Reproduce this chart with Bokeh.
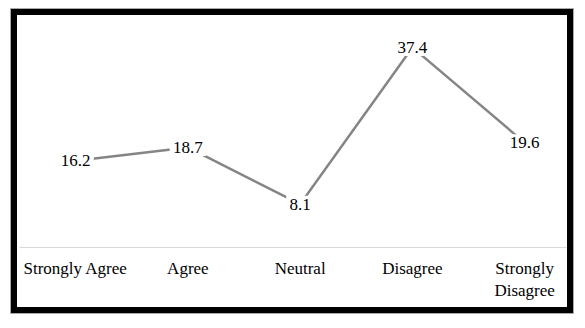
from bokeh.plotting import figure
from bokeh.models import ColumnDataSource, Range1d, FixedTicker
from bokeh.core.properties import value
from bokeh.embed import file_html
from bokeh.resources import INLINE

categories = ["Strongly Agree", "Agree", "Neutral", "Disagree", "Strongly\nDisagree"]
values = [16.2, 18.7, 8.1, 37.4, 19.6]
value_labels = ["16.2", "18.7", "8.1", "37.4", "19.6"]

xs = list(range(len(categories)))
src = ColumnDataSource(dict(x=xs, y=values, lab=value_labels,
                            w=[8.6 * len(s) + 2 for s in value_labels]))

p = figure(width=564, height=306, output_backend="svg", toolbar_location=None,
           x_range=Range1d(-0.5, 4.373), y_range=Range1d(0, 40),
           min_border_left=9, min_border_right=8, min_border_top=25, min_border_bottom=67,
           background_fill_color=None, border_fill_color=None,
           styles={"background-color": "white", "margin-left": "10px", "margin-top": "8px",
                   "box-shadow": "inset 0 0 0 1px #aaaaaa, inset 0 0 0 7px black"})
p.outline_line_color = None
p.grid.visible = False
p.yaxis.visible = False

p.line("x", "y", source=src, line_color="#858585", line_width=2.5)
p.rect("x", "y", width="w", height=17, width_units="screen", height_units="screen",
       source=src, fill_color="white", line_color=None)
p.text("x", "y", text="lab", source=src, text_align="center", text_baseline="middle",
       text_font=value("Liberation Serif"), text_font_size="17px", text_color="black")

ax = p.xaxis[0]
ax.ticker = FixedTicker(ticks=xs)
ax.major_label_overrides = {i: c for i, c in zip(xs, categories)}
ax.axis_line_color = "#d9d9d9"
ax.axis_line_width = 1
ax.major_tick_line_color = None
ax.minor_tick_line_color = None
ax.major_tick_out = 0
ax.major_tick_in = 0
ax.major_label_standoff = 11
ax.major_label_text_font = "Liberation Serif"
ax.major_label_text_font_size = "17px"
ax.major_label_text_color = "black"

open("out.html", "w").write(file_html(p, INLINE))
